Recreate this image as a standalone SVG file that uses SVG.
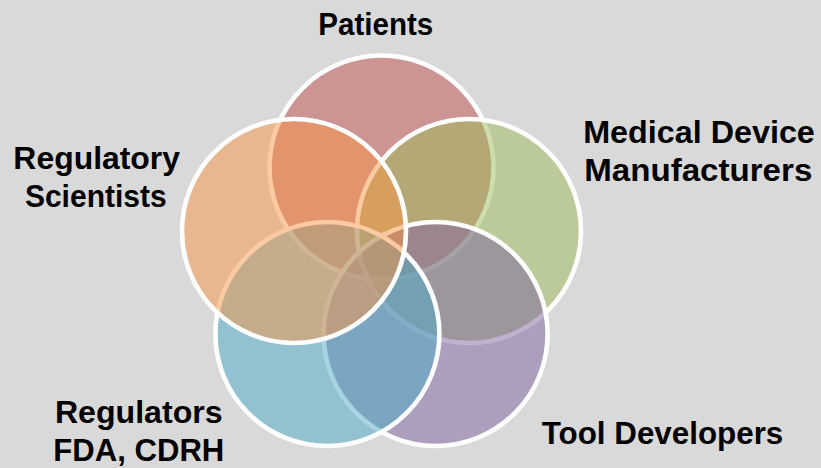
<svg xmlns="http://www.w3.org/2000/svg" width="821" height="468" viewBox="0 0 821 468">
  <style>
    .set { fill-opacity: 0.5; stroke: #ffffff; stroke-width: 4.6; }
    .label { font-family: "Liberation Sans", Arial, sans-serif; font-weight: bold; font-size: 31px; fill: #000000; text-anchor: middle; }
  </style>
  <rect x="0" y="0" width="821" height="468" fill="#d9d9d9"/>

  <!-- five overlapping sets, painted in stacking order -->
  <g id="patients">
    <circle class="set" cx="381.5" cy="167.5" r="112" fill="#c0504d"/>
  </g>
  <g id="manufacturers">
    <circle class="set" cx="469" cy="231" r="112" fill="#9bbb59"/>
  </g>
  <g id="tool-developers">
    <circle class="set" cx="435.6" cy="334" r="112" fill="#8064a2"/>
  </g>
  <g id="regulators">
    <circle class="set" cx="327.4" cy="334" r="112" fill="#4bacc6"/>
  </g>
  <g id="regulatory-scientists">
    <circle class="set" cx="294" cy="231" r="112" fill="#f79646"/>
  </g>

  <!-- set names -->
  <g id="labels">
    <text class="label" x="375.8" y="35" textLength="115" lengthAdjust="spacingAndGlyphs">Patients</text>
    <text class="label" x="96.7" y="169" textLength="166.7" lengthAdjust="spacingAndGlyphs">Regulatory</text>
    <text class="label" x="95.8" y="206.7" textLength="141.7" lengthAdjust="spacingAndGlyphs">Scientists</text>
    <text class="label" x="699" y="143.3" textLength="231.7" lengthAdjust="spacingAndGlyphs">Medical Device</text>
    <text class="label" x="698.3" y="180.7" textLength="228" lengthAdjust="spacingAndGlyphs">Manufacturers</text>
    <text class="label" x="138.8" y="423.3" textLength="167.7" lengthAdjust="spacingAndGlyphs">Regulators</text>
    <text class="label" x="138.8" y="460.7" textLength="171" lengthAdjust="spacingAndGlyphs">FDA, CDRH</text>
    <text class="label" x="662.5" y="444.3" textLength="241.6" lengthAdjust="spacingAndGlyphs">Tool Developers</text>
  </g>
</svg>
